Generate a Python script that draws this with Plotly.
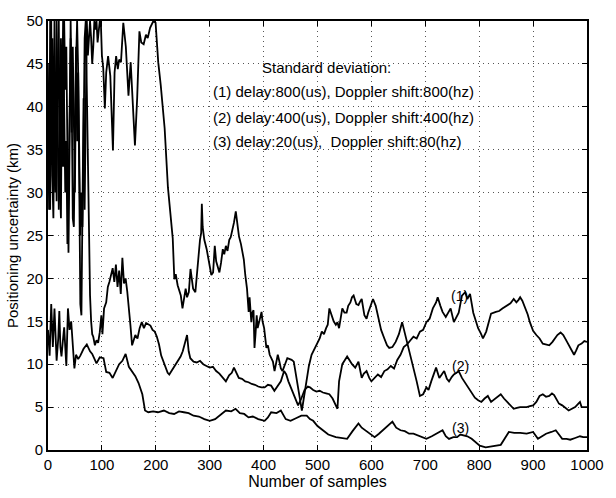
import plotly.graph_objects as go

# Sample index / positioning uncertainty (km) for the three noise settings
n1 = [0,2,4,6,8,10,12,14,16,18,20,22,24,26,28,30,32,34,36,38,40,42,44,46,48,50,52,54,56,58,60,62,64,66,68,70,72,74,76,78,80,82,84,87,90,93,96,99,101,104,108,111,114,117,120,123,126,129,132,135,138,141,144,147,150,153,156,159,162,166,170,174,178,182,186,190,194,198,202,206,210,214,218,222,225,230,234,240,246,250,254,258,261,264,270,276,282,288,294,300,306,312,318,324,330,336,341,345,350,354,360,366,372,378,384,390,396,402,408,414,420,426,432,438,442,446,452,458,464,470,476,482,486,492,498,504,510,516,522,528,534,537,540,546,550,555,560,564,570,576,582,586,591,596,600,606,612,618,624,630,636,642,648,654,660,666,672,678,684,690,696,702,708,714,720,723,728,732,738,743,747,753,758,762,768,774,778,783,789,794,798,803,807,813,818,822,831,837,843,850,858,864,869,873,876,880,885,890,894,900,906,912,918,924,930,936,941,945,951,956,963,968,972,976,980,984,990,995,1000]
v1 = [30,45,28,50,32,27,42,30,50,35,28,33,48,38,50,40,30,36,24,30,42,48,37,47,38,30,45,50,44,33,25,30,26,36,48,50,41,33,24,18,15,13.5,13.2,12.2,12.8,12.5,13.7,15.7,13.5,16.5,17.2,19.0,19.6,20.5,21.2,19.6,21.6,19.0,20.9,18.2,22.4,19.4,20.0,18.5,16.8,14.5,12.2,12.8,13.4,13.0,14.2,14.9,14.2,14.8,14.6,14.5,14.0,13.8,13.2,12.3,11.0,10.3,9.6,9.0,8.8,9.3,9.6,10.2,10.9,11.5,12.4,13.4,11.5,10.7,10.3,10.2,10.4,10.0,9.8,9.6,9.7,9.2,8.9,8.5,8.0,8.7,9.0,9.6,8.9,8.4,8.3,8.0,7.9,7.7,7.6,7.4,7.3,7.3,7.6,7.5,6.9,7.5,8.0,9.2,8.8,8.0,7.0,6.0,5.2,6.0,7.0,7.4,7.3,7.0,6.8,6.9,6.7,6.6,6.5,6.0,5.2,4.8,8.0,10.0,10.4,10.9,10.4,10.0,9.6,10.3,8.4,8.9,9.2,8.4,8.0,8.4,8.8,8.5,9.2,9.4,9.8,9.5,10.5,11.1,12.0,12.3,12.8,13.2,13.0,13.8,14.0,14.9,15.3,16.5,17.2,17.8,16.8,16.1,15.5,16.0,16.5,14.9,15.5,16.0,18.0,18.4,17.6,18.2,16.0,15.0,14.2,13.6,13.0,13.8,15.0,15.9,16.1,16.2,16.5,16.8,17.1,17.6,17.2,17.5,17.8,17.4,16.6,15.8,14.9,13.9,13.4,13.0,12.4,12.3,12.2,12.6,13.0,13.4,13.7,13.4,12.6,12.0,11.5,11.1,11.6,12.2,12.4,12.7,12.6]

n2 = [0,2,4,6,8,10,12,14,16,18,20,22,24,26,28,30,32,34,36,38,40,42,44,46,48,50,52,54,56,58,60,62,64,66,68,70,72,74,76,78,80,82,84,86,88,90,92,94,96,98,100,102.5,105.5,108,111.5,115.6,120.5,123.5,126.4,129.5,132,135.4,139.7,144.4,149.3,153.4,157,161.3,165.5,169.6,173,177.5,181.7,185,189.4,195.5,199.6,204.5,209.2,216.4,222.5,228.4,231.4,234.4,237,240.5,243,246.4,249.5,252,255.4,258,261.3,264.4,267,269.2,273.4,276,279.3,282,284.2,285.4,287,290,294.4,297,300.4,303,306.3,309.4,312,315.3,318,321,324.3,327,330,333,336.3,339,342.3,345,348.4,351,354.3,358,363.3,366,369.2,372.3,374,377.2,379,381.3,383.1,385,387.2,389,391.5,394,396.2,398,401,405.2,408,411.3,414,417.3,420.3,423,426.3,429,432,435,438,441,444,448,452,456,459,462,465,468,471,474,477,480,484,489,496,500,504,508,512,516,519,522,526,530,534,537,540,543,546,550,554,557,561,564,567,572,576,579,582,587,591,594,597,600,603,608,612,618,624,629,633,639,645,651,657,663,669,674,678,684,690,696,702,706,711,716,720,726,731,735,740,744,749,753,758,762,768,774,780,786,792,798,804,810,816,822,828,834,840,846,852,858,864,870,876,882,888,894,900,906,912,918,924,930,935,939,944,948,954,960,966,972,978,984,987,990,995,1000]
v2 = [40,28,50,35,48,30,50,38,29,44,50,31,27,45,33,50,42,47,33,23,35,50,41,27,26,38,47,36,44,31,17,15.7,33,41,28,38,50,46,49,50,48,45,47,50,49,50,47.5,49,50,50,46,44.5,39.8,44,45.9,43.6,34.9,44.0,45.9,44.4,45.5,45.2,49.8,47,41.3,45.2,40,35.5,41.1,48.8,47.5,47.3,48.4,48.0,49.2,50,49.8,45.2,42.5,37.5,30.6,26.8,24.7,19.9,20.5,19.2,18.7,18.0,16.5,17.5,18.8,17.8,18.4,21.1,19.6,18.8,18.4,20.5,22.6,24.5,25.3,28.7,26.0,24.5,23.4,22.5,21.5,20.4,20.7,23.8,22.0,21.1,20.7,21.8,23.4,22.8,23.8,23.2,24.5,24.8,25.7,26.5,27.8,26.5,24.9,24.0,22.2,20.4,18.8,16.1,17.8,14.9,16.0,16.3,11.9,13.5,15.7,14.2,14.9,15.5,16.1,15.0,14.2,11.9,12.2,11.1,10.8,10.3,9.2,10.2,11.1,10.4,9.5,9.2,9.8,10.2,10.7,10.6,10.5,10.3,9.2,8.0,6.6,5.4,4.6,5.8,7.0,8.0,9.8,11.1,12.0,12.6,13.0,13.8,13.5,14.2,14.6,16.5,15.8,15.0,14.6,14.9,14.2,15.5,16.5,16.0,16.0,16.8,17.2,17.8,18.0,17.0,16.9,17.3,17.6,15.7,15.3,16.0,16.5,17.0,17.6,16.8,15.7,14.0,13.0,12.2,11.9,12.0,12.6,13.5,14.9,13.4,12.0,10.8,9.6,8.0,6.3,6.5,7.3,7.0,8.0,8.8,9.6,8.4,8.9,9.2,8.3,8.0,8.5,8.8,9.0,9.2,8.4,7.8,7.3,6.6,6.1,5.8,5.6,6.0,6.3,5.6,5.9,6.1,6.5,6.0,5.6,5.1,4.8,4.9,5.0,5.0,5.0,5.1,5.2,5.6,6.3,6.5,6.2,6.3,6.6,6.4,5.8,5.4,5.2,4.9,4.6,4.8,5.0,5.4,5.6,5.0,5.0,5.0]

n3 = [0,3,6,9,12,16,19,21,23,25,28,30,32,34,37,40,43,46,49,52,56,60,66,72,78,82,86,90,96,103,108,114,120,126,132,138,144,150,156,162,168,175,180,186,195,204,215,225,234,243,252,261,270,280,290,300,310,320,330,340,348,356,364,372,380,390,402,408,414,424,432,441,450,460,470,480,486,492,500,510,520,534,545,555,565,576,582,588,597,606,614,621,630,639,646,654,662,670,678,690,702,712,720,732,738,744,752,759,765,771,778,786,793,801,812,822,832,840,848,855,865,876,888,900,909,916,924,934,942,948,954,962,969,978,987,993,1000]
v3 = [14,11,17,12,16.5,10.4,13,16.2,12,10.9,13,14.3,12,9.8,16.5,14,15.0,12,9.5,11.1,10.6,11.0,11.8,12.3,11.5,11.2,10.6,10.1,10.8,10.7,9.1,9.0,8.4,9.3,10.0,10.4,11.2,9.7,9.2,8.6,7.8,6.5,4.6,4.4,4.5,4.4,4.6,4.3,4.2,4.5,4.4,4.3,4.0,3.9,3.6,3.4,3.6,4.1,4.6,4.5,4.8,4.3,4.2,3.8,3.9,3.6,3.4,3.8,4.4,4.3,4.6,3.6,3.4,3.7,4.0,4.0,3.6,3.4,2.8,2.3,1.8,1.5,1.4,1.3,2.2,3.1,2.6,2.3,1.9,1.5,1.9,2.3,2.9,3.3,2.6,2.3,2.2,1.9,1.9,1.6,1.3,1.6,1.9,2.3,1.6,1.3,1.5,1.5,1.8,1.7,1.6,1.3,0.9,0.5,0.3,0.4,0.5,0.6,1.4,2.1,2.0,2.0,1.9,2.1,1.3,1.6,1.9,2.1,2.3,1.8,1.3,1.3,1.2,1.4,1.6,1.5,1.5]

x_ticks = [0, 100, 200, 300, 400, 500, 600, 700, 800, 900, 1000]
y_ticks = [0, 5, 10, 15, 20, 25, 30, 35, 40, 45, 50]

legend_title = "Standard deviation:"
legend_lines = [
    "(1) delay:800(us), Doppler shift:800(hz)",
    "(2) delay:400(us), Doppler shift:400(hz)",
    "(3) delay:20(us),  Doppler shift:80(hz)",
]
curve_tags = ["(1)", "(2)", "(3)"]

FONT = "Liberation Sans, Arial, Helvetica, sans-serif"

fig = go.Figure()
for xs, ys in [(n1, v1), (n2, v2), (n3, v3)]:
    fig.add_trace(go.Scatter(x=xs, y=ys, mode="lines",
                             line=dict(color="black", width=1.8),
                             showlegend=False, hoverinfo="skip"))

axis_common = dict(
    showline=True, linecolor="black", linewidth=1.6, mirror="ticks",
    ticks="inside", ticklen=5, tickwidth=1.2, tickcolor="black",
    showgrid=True, gridcolor="#555", gridwidth=1, griddash="1px,4px",
    zeroline=False, tickfont=dict(family=FONT, size=15, color="black"),
)

fig.update_xaxes(range=[0, 1000], tickvals=x_ticks,
                 title=dict(text="Number of samples", standoff=2,
                            font=dict(family=FONT, size=16, color="black")),
                 **axis_common)
fig.update_yaxes(range=[0, 50], tickvals=y_ticks,
                 title=dict(text="Positioning uncertainty (km)", standoff=4,
                            font=dict(family=FONT, size=15, color="black")),
                 **axis_common)

annotations = [dict(x=516, y=44.6, text=legend_title, showarrow=False,
                    xanchor="center", yanchor="middle",
                    font=dict(family=FONT, size=15, color="black"))]
for txt, yv in zip(legend_lines, [41.8, 38.8, 36.0]):
    annotations.append(dict(x=302, y=yv, text=txt, showarrow=False,
                            xanchor="left", yanchor="middle",
                            font=dict(family=FONT, size=15, color="black")))
for tag, (xv, yv) in zip(curve_tags, [(764, 18.0), (766, 9.8), (766, 2.6)]):
    annotations.append(dict(x=xv, y=yv, text=tag, showarrow=False,
                            xanchor="center", yanchor="middle",
                            font=dict(family=FONT, size=14, color="black")))

fig.update_layout(
    width=616, height=498,
    margin=dict(l=43, r=17, t=21, b=42),
    paper_bgcolor="white", plot_bgcolor="white",
    annotations=annotations,
)

fig.write_html("out.html")
